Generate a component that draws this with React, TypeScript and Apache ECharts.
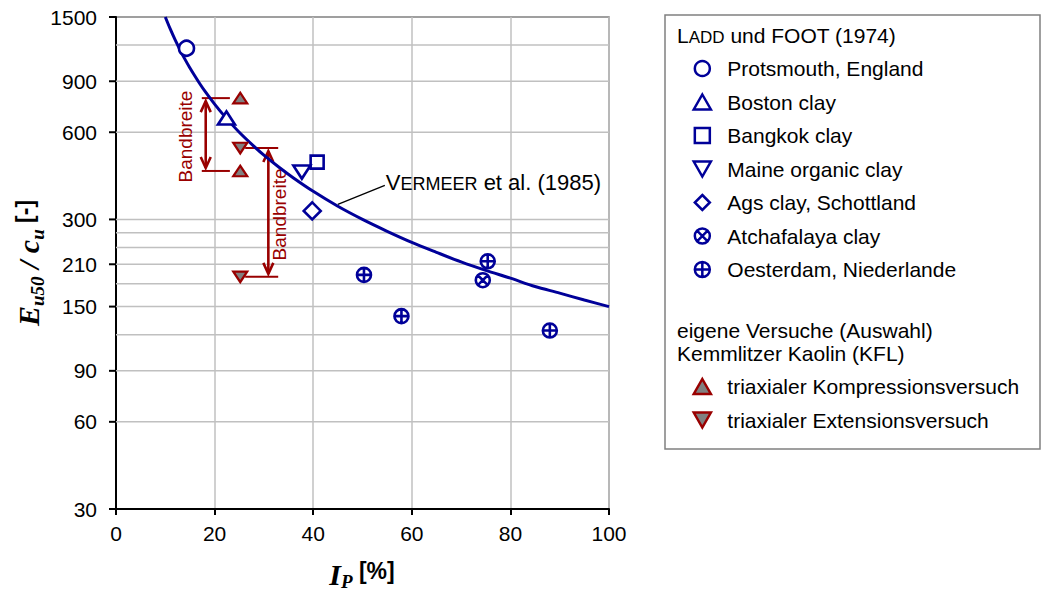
import React, { useEffect, useRef } from 'react';
import * as echarts from 'echarts';

const BLUE = '#000099';
const RED = '#990000';
const SANS = 'Liberation Sans';
const SERIF = 'Liberation Serif';

// ---- data ----
const protsmouth = [[14.3, 1170]];
const boston = [[22.4, 672]];
const bangkok = [[40.8, 473]];
const maine = [[37.7, 437]];
const ags = [[39.8, 321]];
const atchafalaya = [[74.4, 185]];
const oesterdam = [[50.3, 193], [57.9, 139], [75.4, 215], [88.0, 124]];
const kflCompression = [[25.2, 787], [25.2, 441]];
const kflExtension = [[25.2, 529], [25.2, 190]];

const vermeerIp = [10, 11, 12, 13, 14, 15, 16, 17, 18, 20, 22, 25, 28, 30, 33, 36, 40, 45, 50, 55, 60, 65, 70, 75, 80, 85, 90, 95, 100];
const vermeerE = [1500, 1364, 1250, 1154, 1071, 1000, 938, 882, 833, 750, 682, 600, 536, 500, 455, 417, 375, 333, 300, 273, 250, 231, 214, 200, 188, 176, 167, 158, 150];
const vermeerLabelAt = [[45, 333]];

const bandArrowIp = [18.2, 30.9];
const bandLineFromIp = [17.4, 26.2];
const bandLineToIp = [23.1, 32.9];
const bandHigh = [787, 529];
const bandLow = [441, 190];

const xMin = 0;
const xMax = 100;
const xStep = 20;
const yMin = 30;
const yMax = 1500;
const yGridValues = [30, 60, 90, 120, 150, 180, 210, 240, 270, 300, 600, 900, 1200, 1500];
const yTickLabels = [30, 60, 90, 150, 210, 300, 600, 900, 1500];

const laddNames = [
  'Protsmouth, England',
  'Boston clay',
  'Bangkok clay',
  'Maine organic clay',
  'Ags clay, Schottland',
  'Atchafalaya clay',
  'Oesterdam, Niederlande',
];
const kflNames = ['triaxialer Kompressionsversuch', 'triaxialer Extensionsversuch'];

const UP_TRI = 'path://M8,0 L16,14 L0,14 Z';
const DOWN_TRI = 'path://M0,0 L16,0 L8,14 Z';
const SQUARE = 'path://M0,0 L14,0 L14,14 L0,14 Z';
const DIAMOND = 'path://M8,0 L16,8 L8,16 L0,8 Z';
const CIRCLE_X = 'path://M7.5,0 A7.5,7.5 0 1,1 7.5,15 A7.5,7.5 0 1,1 7.5,0 Z M2.2,2.2 L12.8,12.8 M12.8,2.2 L2.2,12.8';
const CIRCLE_PLUS = 'path://M7.5,0 A7.5,7.5 0 1,1 7.5,15 A7.5,7.5 0 1,1 7.5,0 Z M7.5,0 L7.5,15 M0,7.5 L15,7.5';

const openStyle = { color: '#ffffff', borderColor: BLUE, borderWidth: 2.6, opacity: 1 };
const kflStyle = { color: '#808080', borderColor: RED, borderWidth: 2.2, opacity: 1 };

export default function App() {
  const ref = useRef<HTMLDivElement>(null);
  useEffect(() => {
    if (!ref.current) return;
    const chart = echarts.init(ref.current, null, { renderer: 'svg' });

    const scatter = (name: string, data: number[][], symbol: string, size: any, style: any) => ({
      type: 'scatter',
      name,
      data,
      symbol,
      symbolSize: size,
      symbolKeepAspect: true,
      itemStyle: style,
      silent: true,
      z: 4,
    });

    const legendBase = {
      orient: 'vertical',
      left: 692.5,
      padding: 0,
      itemWidth: 40,
      itemHeight: 15,
      itemGap: 12.5,
      selectedMode: false,
      symbolKeepAspect: true,
      itemStyle: { borderWidth: 2.5, opacity: 1 },
      textStyle: { fontSize: 21, fontFamily: SANS, color: '#000' },
      z: 5,
    };

    const option: any = {
      animation: false,
      textStyle: { fontFamily: SANS },
      grid: {
        left: 116,
        right: 439,
        top: 17,
        bottom: 84,
        show: true,
        borderColor: '#808080',
        borderWidth: 1.5,
        backgroundColor: 'transparent',
      },
      xAxis: {
        type: 'value',
        min: xMin,
        max: xMax,
        interval: xStep,
        axisLine: { show: true, lineStyle: { color: '#000', width: 2 } },
        axisTick: { show: true, length: 6, lineStyle: { color: '#000', width: 2 } },
        axisLabel: { fontSize: 21, color: '#000', fontFamily: SANS, margin: 14 },
        splitLine: { show: true, lineStyle: { color: '#c0c0c0', width: 1.5 } },
      },
      yAxis: {
        type: 'log',
        min: yMin,
        max: yMax,
        axisLine: { show: true, lineStyle: { color: '#000', width: 2 } },
        axisTick: { show: false },
        axisLabel: { show: false },
        splitLine: { show: false },
        minorSplitLine: { show: false },
      },
      legend: [
        { ...legendBase, top: 58, data: laddNames },
        { ...legendBase, top: 376, data: kflNames },
      ],
      graphic: [
        {
          type: 'rect',
          z: 1,
          shape: { x: 665, y: 15, width: 375, height: 434 },
          style: { fill: '#fff', stroke: '#808080', lineWidth: 1.5 },
        },
        {
          type: 'text',
          z: 6,
          x: 677,
          y: 35,
          style: {
            text: '{a|L}{b|ADD}{a| und FOOT (1974)}',
            align: 'left',
            verticalAlign: 'middle',
            fill: '#000',
            rich: {
              a: { fontSize: 21, lineHeight: 21, fontFamily: SANS, verticalAlign: 'bottom', fill: '#000' },
              b: { fontSize: 17, lineHeight: 17, fontFamily: SANS, verticalAlign: 'bottom', fill: '#000' },
            },
          },
        },
        {
          type: 'text',
          z: 6,
          x: 677,
          y: 330,
          style: { text: 'eigene Versuche (Auswahl)', fontSize: 21, fontFamily: SANS, fill: '#000', align: 'left', verticalAlign: 'middle' },
        },
        {
          type: 'text',
          z: 6,
          x: 677,
          y: 353,
          style: { text: 'Kemmlitzer Kaolin (KFL)', fontSize: 21, fontFamily: SANS, fill: '#000', align: 'left', verticalAlign: 'middle' },
        },
        {
          type: 'text',
          z: 6,
          x: 362,
          y: 575,
          style: {
            text: '{i|I}{s|P}{n| [%]}',
            align: 'center',
            verticalAlign: 'middle',
            fill: '#000',
            rich: {
              i: { fontSize: 30, lineHeight: 32, fontFamily: SERIF, fontWeight: 'bold', fontStyle: 'italic', verticalAlign: 'top', fill: '#000' },
              s: { fontSize: 19, lineHeight: 19, fontFamily: SERIF, fontWeight: 'bold', fontStyle: 'italic', verticalAlign: 'bottom', fill: '#000' },
              n: { fontSize: 23, lineHeight: 32, fontFamily: SANS, fontWeight: 'bold', verticalAlign: 'top', fill: '#000' },
            },
          },
        },
        {
          type: 'text',
          z: 6,
          x: 30,
          y: 263,
          rotation: Math.PI / 2,
          style: {
            text: '{i|E}{s|u50}{i| / c}{s|u}{n| [-]}',
            align: 'center',
            verticalAlign: 'middle',
            fill: '#000',
            rich: {
              i: { fontSize: 30, lineHeight: 34, fontFamily: SERIF, fontWeight: 'bold', fontStyle: 'italic', verticalAlign: 'top', fill: '#000' },
              s: { fontSize: 19, lineHeight: 19, fontFamily: SERIF, fontWeight: 'bold', fontStyle: 'italic', verticalAlign: 'bottom', fill: '#000' },
              n: { fontSize: 23, lineHeight: 34, fontFamily: SANS, fontWeight: 'bold', verticalAlign: 'top', fill: '#000' },
            },
          },
        },
      ],
      series: [
        {
          type: 'custom',
          name: 'ygrid',
          silent: true,
          z: 1,
          data: yGridValues.map((v) => [xMin, v]),
          renderItem: (params: any, api: any) => {
            const v = api.value(1);
            const a = api.coord([xMin, v]);
            const b = api.coord([xMax, v]);
            const children: any[] = [];
            if (v !== yMin && v !== yMax) {
              children.push({
                type: 'line',
                shape: { x1: a[0], y1: a[1], x2: b[0], y2: b[1] },
                style: { stroke: '#c0c0c0', lineWidth: 1.5 },
              });
            }
            if (yTickLabels.indexOf(v) >= 0) {
              children.push({
                type: 'line',
                shape: { x1: a[0] - 7, y1: a[1], x2: a[0], y2: a[1] },
                style: { stroke: '#000', lineWidth: 2 },
              });
              children.push({
                type: 'text',
                x: a[0] - 19,
                y: a[1],
                style: { text: String(v), fontSize: 21, fontFamily: SANS, fill: '#000', align: 'right', verticalAlign: 'middle' },
              });
            }
            return { type: 'group', children };
          },
        },
        {
          type: 'line',
          name: 'VERMEER et al. (1985)',
          data: vermeerIp.map((x, i) => [x, vermeerE[i]]),
          showSymbol: false,
          symbol: 'none',
          smooth: 0.3,
          silent: true,
          lineStyle: { color: BLUE, width: 3 },
          z: 3,
        },
        {
          type: 'custom',
          name: 'vermeerLabel',
          silent: true,
          z: 3,
          data: vermeerLabelAt,
          renderItem: (params: any, api: any) => {
            const p = api.coord([api.value(0), api.value(1)]);
            return {
              type: 'group',
              children: [
                {
                  type: 'line',
                  shape: { x1: p[0], y1: p[1] - 2, x2: p[0] + 47, y2: p[1] - 21 },
                  style: { stroke: '#000', lineWidth: 1.3 },
                },
                {
                  type: 'text',
                  x: p[0] + 48,
                  y: p[1] - 24,
                  style: {
                    text: '{a|V}{b|ERMEER}{a| et al. (1985)}',
                    align: 'left',
                    verticalAlign: 'middle',
                    fill: '#000',
                    rich: {
                      a: { fontSize: 22, lineHeight: 22, fontFamily: SANS, verticalAlign: 'bottom', fill: '#000' },
                      b: { fontSize: 18, lineHeight: 18, fontFamily: SANS, verticalAlign: 'bottom', fill: '#000' },
                    },
                  },
                },
              ],
            };
          },
        },
        {
          type: 'custom',
          name: 'bands',
          silent: true,
          z: 3,
          data: bandArrowIp.map((x, i) => [x, bandLow[i], bandHigh[i], bandLineFromIp[i], bandLineToIp[i]]),
          encode: { x: [0, 3, 4], y: [1, 2] },
          renderItem: (params: any, api: any) => {
            const ax = api.value(0);
            const lo = api.value(1);
            const hi = api.value(2);
            const x1 = api.value(3);
            const x2 = api.value(4);
            const pHi = api.coord([ax, hi]);
            const pLo = api.coord([ax, lo]);
            const l1 = api.coord([x1, hi]);
            const r1 = api.coord([x2, hi]);
            const l2 = api.coord([x1, lo]);
            const r2 = api.coord([x2, lo]);
            const st = { stroke: RED, lineWidth: 2, fill: 'none' };
            const ast = { stroke: RED, lineWidth: 2.6, fill: 'none' };
            const top = pHi[1] + 3;
            const bot = pLo[1] - 3;
            const dx = params.dataIndex === 0 ? -20 : 11;
            return {
              type: 'group',
              children: [
                { type: 'line', shape: { x1: l1[0], y1: l1[1], x2: r1[0], y2: r1[1] }, style: st },
                { type: 'line', shape: { x1: l2[0], y1: l2[1], x2: r2[0], y2: r2[1] }, style: st },
                { type: 'line', shape: { x1: pHi[0], y1: top, x2: pLo[0], y2: bot }, style: ast },
                { type: 'polyline', shape: { points: [[pHi[0] - 5, top + 11], [pHi[0], top], [pHi[0] + 5, top + 11]] }, style: ast },
                { type: 'polyline', shape: { points: [[pLo[0] - 5, bot - 11], [pLo[0], bot], [pLo[0] + 5, bot - 11]] }, style: ast },
                {
                  type: 'text',
                  x: pHi[0] + dx,
                  y: (pHi[1] + pLo[1]) / 2 + 2,
                  rotation: Math.PI / 2,
                  style: { text: 'Bandbreite', fontSize: 19, fontFamily: SANS, fill: RED, align: 'center', verticalAlign: 'middle' },
                },
              ],
            };
          },
        },
        scatter(laddNames[0], protsmouth, 'circle', 15, openStyle),
        scatter(laddNames[1], boston, UP_TRI, [17, 15], openStyle),
        scatter(laddNames[2], bangkok, SQUARE, 13, openStyle),
        scatter(laddNames[3], maine, DOWN_TRI, [17, 15], openStyle),
        scatter(laddNames[4], ags, DIAMOND, 17, openStyle),
        scatter(laddNames[5], atchafalaya, CIRCLE_X, 14, openStyle),
        scatter(laddNames[6], oesterdam, CIRCLE_PLUS, 14, openStyle),
        scatter(kflNames[0], kflCompression, UP_TRI, [14, 12], kflStyle),
        scatter(kflNames[1], kflExtension, DOWN_TRI, [14, 12], kflStyle),
      ],
    };

    chart.setOption(option);
    return () => chart.dispose();
  }, []);

  return (
    <div
      ref={ref}
      style={{ position: 'absolute', left: 0, top: 0, width: 1048, height: 593, background: '#fff' }}
    />
  );
}
